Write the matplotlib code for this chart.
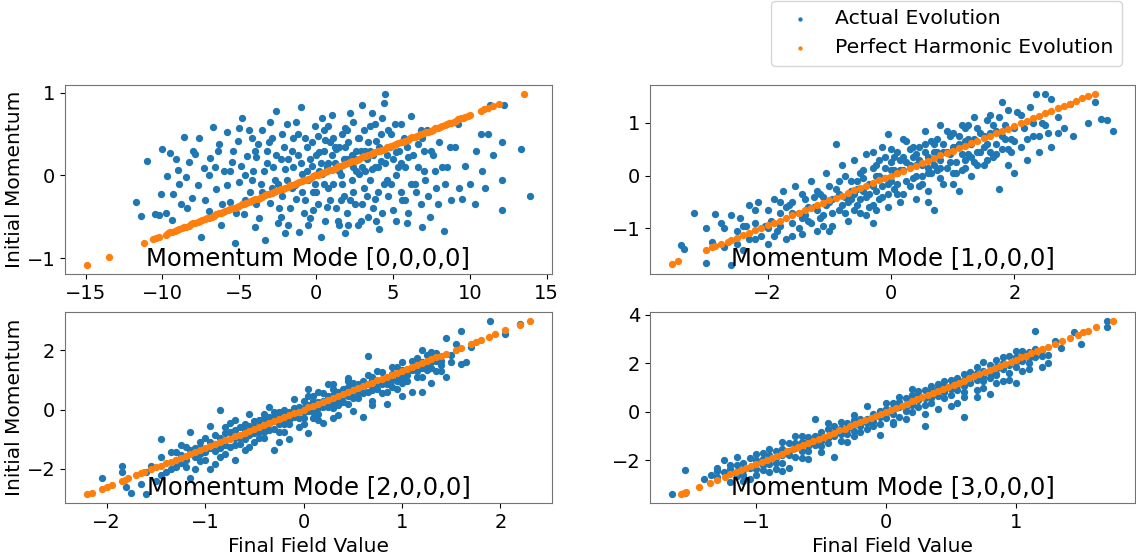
import matplotlib
matplotlib.use("Agg")
import matplotlib.pyplot as plt
import numpy as np

# -----------------------------------------------------------------------------
#   Data (blue = actual, orange = perfect harmonic)
# -----------------------------------------------------------------------------

titles = ["Momentum Mode [0,0,0,0]", "Momentum Mode [1,0,0,0]",
          "Momentum Mode [2,0,0,0]", "Momentum Mode [3,0,0,0]"]

# mode [0,0,0,0]
actual_0 = np.array([
    (-11.7, -0.32), (-11.4, -0.49), (-11.0, 0.17), (-10.5, -0.47), (-10.2, -0.48),
    (-10.0, 0.32), (-10.1, -0.23), (-9.7, -0.01), (-9.5, 0.27), (-9.4, -0.54),
    (-9.3, -0.22), (-9.0, 0.06), (-8.8, -0.35), (-8.6, 0.47), (-8.5, -0.02),
    (-8.3, 0.16), (-8.1, -0.27), (-7.9, 0.26), (-7.7, -0.11), (-7.5, -0.75),
    (-7.3, 0.09), (-7.0, -0.43), (-6.9, 0.21), (-6.7, 0.59), (-6.5, -0.17),
    (-6.3, 0.38), (-6.2, -0.6), (-6.0, 0.05), (-5.8, 0.52), (-5.6, -0.32),
    (-5.5, 0.16), (-5.3, -0.82), (-5.1, 0.42), (-5.0, -0.08), (-4.8, 0.7),
    (-4.7, -0.47), (-4.5, 0.24), (-4.3, -0.2), (-4.1, 0.05), (-4.0, -0.63),
    (-3.8, 0.38), (-3.6, -0.1), (-3.5, 0.55), (-3.3, -0.78), (-3.2, 0.15),
    (-3.0, -0.33), (-2.9, 0.45), (-2.7, -0.05), (-2.6, 0.78), (-2.5, -0.58),
    (-2.3, 0.2), (-2.2, -0.25), (-2.0, 0.08), (-1.9, 0.62), (-1.7, -0.4),
    (-1.6, 0.3), (-1.4, -0.12), (-1.2, 0.5), (-1.1, -0.68), (-1.0, 0.83),
    (-0.9, 0.02), (-0.7, -0.3), (-0.6, 0.35), (-0.4, -0.52), (-0.3, 0.12),
    (-0.1, 0.6), (0.0, -0.2), (0.2, 0.28), (0.3, -0.75), (0.4, 0.02),
    (0.6, 0.43), (0.7, -0.38), (0.8, 0.15), (1.0, 0.73), (1.1, -0.1),
    (1.3, 0.32), (1.4, -0.55), (1.5, 0.05), (1.7, 0.5), (1.8, -0.25),
    (2.0, 0.2), (2.1, -0.6), (2.2, 0.75), (2.4, 0.1), (2.5, -0.35),
    (2.7, 0.45), (2.8, 0.02), (3.0, 0.85), (3.1, -0.15), (3.2, 0.3),
    (3.4, -0.5), (3.5, 0.6), (3.6, 0.08), (3.8, -0.28), (3.9, 0.42),
    (4.1, -0.65), (4.2, 0.18), (4.4, 0.88), (4.5, 0.99), (4.6, -0.05),
    (4.8, 0.35), (5.0, -0.42), (5.1, 0.62), (5.3, 0.1), (5.5, -0.2),
    (5.7, 0.45), (5.9, -0.58), (6.0, 0.22), (6.2, 0.72), (6.4, -0.1),
    (6.6, 0.38), (6.8, -0.35), (7.0, 0.05), (7.2, 0.55), (7.4, -0.5),
    (7.6, 0.25), (7.8, -0.15), (8.0, 0.4), (8.3, -0.67), (8.5, 0.1),
    (8.8, -0.3), (9.0, 0.35), (9.2, 0.62), (9.5, -0.28), (9.7, 0.12),
    (10.0, -0.1), (10.4, 0.3), (10.7, 0.5), (11.0, -0.15), (11.2, 0.5),
    (11.3, 0.85), (11.5, 0.25), (12.1, 0.4), (12.1, -0.05), (12.1, -0.42),
    (12.2, 0.85), (13.3, 0.32), (13.9, -0.25),
    (0.5, -0.1), (1.2, 0.15), (2.3, -0.05), (3.3, 0.2), (4.0, 0.1),
    (-0.5, -0.05), (1.6, -0.3), (2.6, 0.3), (-1.5, 0.1), (0.9, 0.4),
    (3.7, -0.4), (-2.8, -0.2), (5.2, 0.28), (4.7, -0.25), (-4.2, 0.45),
    (-3.9, -0.35), (2.9, -0.55), (1.9, 0.58), (-0.2, -0.42), (0.1, 0.48),
    (-5.8, -0.12), (-5.4, 0.3), (-5.2, -0.45), (-4.9, 0.12), (-4.6, -0.3),
    (-4.4, 0.55), (-4.2, -0.05), (-3.9, 0.22), (-3.7, -0.52), (-3.4, 0.05),
    (-3.1, 0.4), (-2.9, -0.15), (-2.6, 0.25), (-2.4, -0.4), (-2.1, 0.35),
    (-1.9, -0.05), (-1.8, -0.6), (-1.5, 0.45), (-1.3, -0.28), (-1.0, 0.15),
    (-0.8, -0.45), (-0.6, 0.05), (-0.3, 0.4), (-0.2, -0.2), (0.1, -0.35),
    (0.3, 0.15), (0.5, 0.55), (0.6, -0.55), (0.8, -0.15), (1.0, 0.25),
    (1.1, 0.45), (1.3, -0.4), (1.5, 0.35), (1.6, 0.0), (1.8, 0.2),
    (2.0, -0.45), (2.1, 0.4), (2.3, 0.25), (2.4, -0.2), (2.6, 0.05),
    (2.7, -0.6), (2.9, 0.3), (3.0, 0.1), (3.1, 0.55), (3.3, -0.25),
    (3.4, 0.4), (3.5, -0.05), (3.7, 0.25), (3.8, 0.62), (4.0, -0.2),
    (4.2, 0.5), (4.3, -0.45), (4.5, 0.15), (4.7, 0.55), (4.9, -0.1),
    (5.0, 0.2), (5.2, -0.55), (5.4, 0.3), (5.6, -0.3), (5.8, 0.1),
    (6.0, -0.45), (6.3, 0.25), (6.5, -0.2), (6.8, 0.55), (7.1, -0.05),
    (7.5, 0.3), (7.9, -0.35), (8.2, 0.1), (8.7, 0.35), (9.3, -0.15),
    (-6.6, 0.1), (-7.2, -0.3), (-8.0, 0.3), (-8.9, -0.1), (-6.1, -0.35),
    (-5.0, 0.58), (-3.0, 0.65), (-2.0, -0.7), (0.4, 0.7), (1.9, -0.7),
    (3.6, 0.75), (5.5, 0.62), (6.9, -0.62), (-9.8, -0.45), (10.3, -0.35),
    (10.8, 0.05),
    (-3.5, -0.2), (-3.2, 0.3), (-2.8, 0.1), (-2.5, -0.1), (-2.2, 0.5),
    (-1.8, 0.2), (-1.6, -0.15), (-1.2, 0.25), (-0.9, -0.2), (-0.7, 0.45),
    (-0.4, 0.2), (-0.1, -0.1), (0.2, 0.05), (0.5, 0.3), (0.7, 0.1),
    (0.9, -0.3), (1.2, 0.35), (1.4, 0.1), (1.7, -0.1), (1.9, 0.35),
    (2.2, -0.3), (2.5, 0.2), (2.8, 0.45), (3.0, -0.35), (3.2, 0.05),
    (3.5, 0.3), (3.8, 0.1), (4.1, 0.35), (4.4, -0.1), (4.6, 0.25),
    (4.9, 0.5), (5.2, 0.0), (5.5, 0.15), (5.9, 0.35), (6.2, -0.1),
    (6.6, 0.1), (7.0, 0.3), (7.3, -0.25), (7.7, 0.05), (8.4, -0.1),
    (-4.6, 0.0), (-4.0, 0.3), (-5.6, 0.05), (-6.4, 0.3), (-7.0, 0.0),
    (-7.6, 0.45), (-8.4, -0.4), (-9.1, 0.2), (0.0, 0.25), (0.8, 0.6),
    (2.0, 0.55), (3.9, -0.55), (5.8, -0.3), (6.9, 0.45), (-2.3, -0.5),
    (-0.5, -0.6), (1.5, -0.6), (2.4, 0.65), (4.3, 0.7), (-1.3, 0.65),
])
harm_0_x = [-14.9, -13.5, -11.2, -10.6, -10.4, -10.2, -9.8, -9.5, -9.2, -8.9,
            -8.6, -8.3, -8.0, -7.7, -7.4, -7.1, -6.8, -6.5, -6.2, -5.9,
            -5.6, -5.3, -5.0, -4.7, -4.4, -4.1, -3.8, -3.5, -3.2, -2.9,
            -2.6, -2.3, -2.0, -1.7, -1.4, -1.1, -0.8, -0.5, -0.2, 0.1,
            0.4, 0.7, 1.0, 1.3, 1.6, 1.9, 2.2, 2.5, 2.8, 3.1,
            3.4, 3.7, 4.0, 4.3, 4.6, 4.9, 5.2, 5.5, 5.8, 6.1,
            6.4, 6.7, 7.0, 7.3, 7.6, 7.9, 8.2, 8.5, 8.8, 9.1,
            9.4, 9.7, 10.0, 10.7, 10.9, 11.2, 11.5, 11.9, 13.5,
            -9.65, -9.35, -9.05, -8.75, -8.45, -8.15, -7.85, -7.55, -7.25, -6.95,
            -6.65, -6.35, -6.05, -5.75, -5.45, -5.15, -4.85, -4.55, -4.25, -3.95,
            -3.65, -3.35, -3.05, -2.75, -2.45, -2.15, -1.85, -1.55, -1.25, -0.95,
            -0.65, -0.35, -0.05, 0.25, 0.55, 0.85, 1.15, 1.45, 1.75, 2.05,
            2.35, 2.65, 2.95, 3.25, 3.55, 3.85, 4.15, 4.45, 4.75, 5.05,
            5.35, 5.65, 5.95, 6.25, 6.55, 6.85, 7.15, 7.45, 7.75, 8.05,
            8.35, 8.65, 8.95, 9.25, 9.55, 9.85]
harm_0_y = [-1.09, -0.99, -0.82, -0.77, -0.76, -0.74, -0.72, -0.69, -0.67, -0.65,
            -0.63, -0.61, -0.58, -0.56, -0.54, -0.52, -0.50, -0.47, -0.45, -0.43,
            -0.41, -0.39, -0.37, -0.34, -0.32, -0.30, -0.28, -0.26, -0.23, -0.21,
            -0.19, -0.17, -0.15, -0.12, -0.10, -0.08, -0.06, -0.04, -0.01, 0.01,
            0.03, 0.05, 0.07, 0.09, 0.12, 0.14, 0.16, 0.18, 0.20, 0.23,
            0.25, 0.27, 0.29, 0.31, 0.34, 0.36, 0.38, 0.40, 0.42, 0.45,
            0.47, 0.49, 0.51, 0.53, 0.55, 0.58, 0.60, 0.62, 0.64, 0.66,
            0.69, 0.71, 0.73, 0.78, 0.80, 0.82, 0.84, 0.87, 0.99,
            -0.70, -0.68, -0.66, -0.64, -0.62, -0.59, -0.57, -0.55, -0.53, -0.51,
            -0.49, -0.46, -0.44, -0.42, -0.40, -0.38, -0.35, -0.33, -0.31, -0.29,
            -0.27, -0.24, -0.22, -0.20, -0.18, -0.16, -0.14, -0.11, -0.09, -0.07,
            -0.05, -0.03, 0.00, 0.02, 0.04, 0.06, 0.08, 0.11, 0.13, 0.15,
            0.17, 0.19, 0.22, 0.24, 0.26, 0.28, 0.30, 0.32, 0.35, 0.37,
            0.39, 0.41, 0.43, 0.46, 0.48, 0.50, 0.52, 0.54, 0.57, 0.59,
            0.61, 0.63, 0.65, 0.68, 0.70, 0.72]

# mode [1,0,0,0]
actual_1 = np.array([
    (-3.4, -1.32), (-3.35, -1.38), (-3.2, -0.7), (-3.0, -1.0), (-3.0, -1.65),
    (-2.9, -1.25), (-2.85, -0.73), (-2.75, -0.9), (-2.7, -1.35), (-2.6, -0.75),
    (-2.6, -1.7), (-2.5, -1.05), (-2.45, -0.8), (-2.4, -1.4), (-2.3, -0.55),
    (-2.3, -1.2), (-2.2, -0.9), (-2.15, -0.5), (-2.1, -1.15), (-2.0, -0.65),
    (-2.0, -1.3), (-1.95, -0.85), (-1.9, -0.45), (-1.85, -1.05), (-1.8, -0.7),
    (-1.75, -0.3), (-1.7, -1.2), (-1.65, -0.55), (-1.6, -0.9), (-1.55, -0.2),
    (-1.5, -0.7), (-1.45, -1.1), (-1.4, -0.45), (-1.35, -0.85), (-1.3, -0.1),
    (-1.25, -0.6), (-1.2, -1.05), (-1.15, -0.35), (-1.1, -0.75), (-1.05, 0.05),
    (-1.0, -0.5), (-0.95, -0.95), (-0.9, 0.6), (-0.9, -0.25), (-0.85, -0.65),
    (-0.8, 0.2), (-0.75, -0.4), (-0.7, -0.85), (-0.65, -0.1), (-0.6, 0.3),
    (-0.55, -0.55), (-0.5, 0.05), (-0.45, -0.3), (-0.4, 0.4), (-0.4, -0.75),
    (-0.35, -0.15), (-0.3, -0.9), (-0.25, 0.2), (-0.2, -0.45), (-0.15, 0.55),
    (-0.1, -0.05), (-0.05, 0.78), (-0.05, -0.6), (0.0, 0.25), (0.05, -0.25),
    (0.1, 0.45), (0.15, -0.5), (0.2, 0.1), (0.25, 0.65), (0.3, -0.2),
    (0.35, 0.35), (0.4, -0.45), (0.45, 0.55), (0.5, 0.0), (0.55, 0.85),
    (0.6, -0.3), (0.65, 0.3), (0.7, -0.65), (0.7, 0.6), (0.75, 0.1),
    (0.8, 0.95), (0.85, -0.15), (0.9, 0.45), (0.95, 0.75), (1.0, 0.05),
    (1.05, 0.55), (1.1, -0.3), (1.15, 0.95), (1.2, 0.3), (1.25, 0.7),
    (1.3, 0.0), (1.35, 1.1), (1.4, 0.45), (1.45, 0.8), (1.5, 0.2),
    (1.55, 0.6), (1.6, 1.15), (1.65, 0.35), (1.7, 0.85), (1.75, -0.25),
    (1.8, 1.4), (1.8, 0.5), (1.85, 0.95), (1.9, 0.2), (1.95, 0.7),
    (2.0, 0.05), (2.05, 1.2), (2.1, 0.55), (2.15, 0.9), (2.2, 0.3),
    (2.25, 1.3), (2.3, 0.75), (2.35, 1.55), (2.4, 0.45), (2.45, 1.0),
    (2.5, 1.55), (2.55, 0.8), (2.6, 1.45), (2.6, 0.55), (2.7, 1.1),
    (2.8, 0.9), (2.9, 1.35), (2.95, 0.75), (3.2, 1.0), (3.3, 1.4),
    (3.4, 1.07), (3.5, 1.05), (3.6, 0.85),
    (-0.3, -0.2), (0.1, 0.05), (0.4, 0.2), (-0.6, -0.35), (0.8, 0.3),
    (-1.1, -0.4), (1.2, 0.65), (0.0, -0.1), (-0.2, 0.0), (0.6, 0.15),
    (-2.2, -1.2), (-2.05, -0.95), (-1.9, -1.15), (-1.8, -0.95), (-1.7, -0.6),
    (-1.6, -0.5), (-1.5, -1.0), (-1.45, -0.35), (-1.35, -0.6), (-1.3, -0.9),
    (-1.2, -0.3), (-1.15, -0.8), (-1.05, -0.55), (-1.0, -0.2), (-0.95, -0.7),
    (-0.85, -0.35), (-0.8, -0.55), (-0.75, 0.0), (-0.7, -0.5), (-0.65, -0.3),
    (-0.6, -0.65), (-0.55, -0.1), (-0.5, -0.45), (-0.45, 0.1), (-0.4, -0.4),
    (-0.35, -0.6), (-0.3, 0.15), (-0.25, -0.3), (-0.2, 0.3), (-0.15, -0.2),
    (-0.1, 0.15), (-0.05, -0.35), (0.0, 0.5), (0.05, 0.1), (0.1, -0.15),
    (0.15, 0.3), (0.2, -0.35), (0.25, 0.25), (0.3, 0.5), (0.35, -0.05),
    (0.4, 0.4), (0.45, -0.2), (0.5, 0.2), (0.55, 0.45), (0.6, 0.05),
    (0.65, 0.65), (0.7, 0.2), (0.75, 0.45), (0.8, -0.05), (0.85, 0.6),
    (0.9, 0.15), (0.95, 0.4), (1.0, 0.8), (1.05, 0.25), (1.1, 0.6),
    (1.15, 0.1), (1.2, 0.9), (1.25, 0.4), (1.3, 0.6), (1.35, 0.25),
    (1.4, 0.9), (1.45, 0.45), (1.5, 0.75), (1.55, 1.05), (1.6, 0.45),
    (1.65, 0.95), (1.7, 0.6), (1.75, 1.1), (1.85, 0.7), (1.9, 1.25),
    (1.95, 0.45), (2.0, 0.9), (2.1, 1.15), (2.2, 0.7), (2.3, 1.0),
    (2.4, 0.75), (2.5, 0.95), (2.7, 0.8), (-2.5, -1.3), (-2.35, -0.95),
    (-2.7, -1.0), (-1.0, -1.05), (-0.3, 0.45), (0.2, 0.7), (0.6, -0.5),
    (1.0, -0.15), (-1.6, -1.15),
    (-1.4, -0.75), (-1.25, -0.4), (-1.1, -0.95), (-0.95, -0.45), (-0.85, -0.1),
    (-0.75, -0.7), (-0.65, -0.45), (-0.55, -0.25), (-0.5, -0.7), (-0.45, -0.05),
    (-0.35, -0.35), (-0.3, -0.55), (-0.25, 0.0), (-0.15, -0.4), (-0.1, 0.35),
    (-0.05, -0.15), (0.0, 0.1), (0.05, 0.35), (0.1, -0.35), (0.15, 0.1),
    (0.2, 0.35), (0.25, -0.1), (0.3, 0.2), (0.35, 0.55), (0.4, 0.0),
    (0.45, 0.3), (0.5, -0.15), (0.55, 0.6), (0.6, 0.35), (0.65, 0.05),
    (0.7, 0.45), (0.75, 0.7), (0.8, 0.15), (0.85, 0.45), (0.9, 0.85),
    (0.95, 0.25), (1.0, 0.55), (1.05, 0.05), (1.1, 0.75), (1.15, 0.4),
    (1.2, 0.15), (1.25, 0.95), (1.3, 0.35), (1.35, 0.7), (1.4, 0.2),
    (1.5, 0.55), (1.55, 0.3), (1.6, 0.8), (1.7, 0.4), (1.8, 0.75),
    (1.9, 0.5), (2.0, 0.65), (-1.8, -0.5), (-2.0, -1.0), (-2.2, -0.65),
    (-2.4, -0.95), (-1.6, -0.7), (-1.45, -0.8), (-1.2, -0.65), (-0.25, -0.65),
])
harm_1_x = [-3.55, -3.45, -3.0, -2.9, -2.85, -2.75, -2.65,
            -2.6, -2.5, -2.4, -2.3, -2.2, -2.1, -2.0, -1.9, -1.8, -1.7,
            -1.6, -1.5, -1.4, -1.3, -1.2, -1.1, -1.0, -0.9, -0.8, -0.7,
            -0.6, -0.5, -0.4, -0.3, -0.2, -0.1, 0.0, 0.1, 0.2, 0.3,
            0.4, 0.5, 0.6, 0.7, 0.8, 0.9, 1.0, 1.1, 1.2, 1.3,
            1.4, 1.5, 1.6, 1.7, 1.8, 1.9, 2.0, 2.1, 2.2, 2.3,
            2.4, 2.5, 2.6, 2.7, 2.8, 2.9, 3.0, 3.1, 3.2, 3.3]
harm_1_y = [-1.67, -1.62, -1.41, -1.36, -1.34, -1.29, -1.25,
            -1.22, -1.18, -1.13, -1.08, -1.03, -0.99, -0.94, -0.89, -0.85, -0.80,
            -0.75, -0.71, -0.66, -0.61, -0.56, -0.52, -0.47, -0.42, -0.38, -0.33,
            -0.28, -0.24, -0.19, -0.14, -0.09, -0.05, 0.00, 0.05, 0.09, 0.14,
            0.19, 0.24, 0.28, 0.33, 0.38, 0.42, 0.47, 0.52, 0.56, 0.61,
            0.66, 0.71, 0.75, 0.80, 0.85, 0.89, 0.94, 0.99, 1.03, 1.08,
            1.13, 1.18, 1.22, 1.27, 1.32, 1.36, 1.41, 1.46, 1.50, 1.55]

# mode [2,0,0,0]
actual_2 = np.array([
    (-2.05, -2.3), (-1.85, -1.9), (-1.85, -2.1), (-1.8, -2.6), (-1.75, -2.8),
    (-1.65, -2.5), (-1.6, -2.85), (-1.55, -1.9), (-1.5, -2.4), (-1.45, -1.0),
    (-1.45, -1.6), (-1.4, -2.1), (-1.35, -1.45), (-1.3, -1.95), (-1.25, -1.2),
    (-1.2, -1.7), (-1.15, -0.75), (-1.15, -2.3), (-1.1, -1.3), (-1.05, -1.75),
    (-1.0, -0.95), (-1.0, -1.45), (-0.95, -0.55), (-0.95, -2.0), (-0.9, -1.15),
    (-0.85, 0.0), (-0.85, -1.6), (-0.8, -0.8), (-0.75, -1.25), (-0.75, -0.45),
    (-0.7, -1.7), (-0.65, -0.95), (-0.6, -0.5), (-0.6, -1.35), (-0.55, -0.15),
    (-0.5, -0.8), (-0.5, -1.1), (-0.45, -0.35), (-0.4, -0.95), (-0.4, -0.6),
    (-0.35, 0.1), (-0.3, -1.35), (-0.3, -0.4), (-0.25, -0.75), (-0.2, 0.0),
    (-0.2, -0.5), (-0.15, -1.0), (-0.1, -0.25), (-0.1, 0.35), (-0.05, -0.6),
    (0.0, 0.05), (0.0, -0.3), (0.05, 0.45), (0.05, -0.8), (0.1, 0.2),
    (0.15, -0.15), (0.15, 0.6), (0.2, -0.45), (0.2, 0.3), (0.25, 0.85),
    (0.3, 0.05), (0.3, 0.5), (0.35, -0.2), (0.4, 0.7), (0.4, 0.25),
    (0.45, 1.05), (0.5, 0.4), (0.5, -0.05), (0.55, 0.85), (0.6, -0.25),
    (0.6, 0.55), (0.65, 1.8), (0.65, 1.15), (0.7, 0.3), (0.7, 0.8),
    (0.75, 1.3), (0.8, 0.55), (0.85, 1.0), (0.85, 0.2), (0.9, 1.45),
    (0.9, 0.75), (0.95, 1.2), (1.0, 0.45), (1.0, 1.6), (1.05, 0.95),
    (1.1, 1.35), (1.1, 0.6), (1.15, 1.75), (1.2, 1.1), (1.2, 0.6),
    (1.25, 1.5), (1.3, 0.9), (1.3, 1.95), (1.35, 1.3), (1.4, 1.65),
    (1.45, 2.4), (1.45, 1.1), (1.5, 1.85), (1.55, 2.2), (1.6, 2.65),
    (1.6, 1.55), (1.65, 1.6), (1.7, 2.1), (1.9, 3.0), (2.05, 2.55),
    (2.2, 2.9),
    (-0.9, -1.4), (-0.7, -0.7), (-0.45, -0.75), (-0.25, -0.1), (0.1, -0.1),
    (0.35, 0.35), (0.55, 0.6), (0.75, 0.95), (-1.2, -1.25), (0.25, 0.15),
    (-1.35, -2.0), (-1.25, -1.55), (-1.2, -1.95), (-1.1, -1.6), (-1.05, -1.1),
    (-1.0, -1.7), (-0.95, -1.3), (-0.9, -0.85), (-0.85, -1.3), (-0.8, -1.5),
    (-0.75, -0.75), (-0.7, -1.2), (-0.65, -0.6), (-0.6, -1.0), (-0.55, -0.55),
    (-0.55, -1.25), (-0.5, -0.4), (-0.45, -0.95), (-0.4, -0.3), (-0.35, -0.7),
    (-0.35, -0.25), (-0.3, -0.65), (-0.25, -0.2), (-0.2, -0.75), (-0.15, -0.1),
    (-0.15, -0.5), (-0.1, 0.05), (-0.05, -0.3), (0.0, 0.3), (0.0, -0.5),
    (0.05, 0.15), (0.1, -0.3), (0.1, 0.45), (0.15, 0.05), (0.2, 0.55),
    (0.25, 0.1), (0.25, 0.45), (0.3, 0.7), (0.35, 0.15), (0.35, 0.6),
    (0.4, 0.45), (0.45, 0.2), (0.45, 0.75), (0.5, 0.9), (0.55, 0.4),
    (0.6, 0.95), (0.65, 0.6), (0.7, 1.1), (0.75, 0.7), (0.8, 1.25),
    (0.8, 0.85), (0.85, 0.6), (0.9, 1.0), (0.95, 1.45), (1.0, 0.9),
    (1.05, 1.3), (1.1, 1.65), (1.15, 1.1), (1.2, 1.4), (1.25, 1.85),
    (1.3, 1.4), (1.35, 1.65), (1.4, 1.3), (1.5, 1.6), (-1.3, -1.45),
    (-1.45, -2.2), (-1.6, -2.1), (-1.1, -2.0), (-0.25, -1.1), (0.3, -0.3),
    (0.7, 0.15), (1.2, 2.0), (-0.7, -0.35), (0.05, 0.7), (-0.9, -1.85),
    (-1.3, -1.7), (-1.15, -1.35), (-1.05, -1.5), (-0.95, -1.1), (-0.85, -0.95),
    (-0.8, -1.2), (-0.7, -0.95), (-0.65, -1.15), (-0.6, -0.7), (-0.5, -0.6),
    (-0.45, -0.55), (-0.4, -0.75), (-0.35, -0.45), (-0.3, -0.25), (-0.25, -0.5),
    (-0.2, -0.2), (-0.15, -0.35), (-0.1, -0.1), (-0.05, 0.1), (0.0, -0.1),
    (0.05, -0.05), (0.1, 0.3), (0.15, 0.25), (0.2, 0.1), (0.25, 0.3),
    (0.3, 0.25), (0.35, 0.45), (0.4, 0.6), (0.45, 0.45), (0.5, 0.6),
    (0.55, 0.55), (0.6, 0.75), (0.65, 0.85), (0.7, 0.65), (0.75, 0.85),
    (0.8, 1.0), (0.85, 0.85), (0.9, 1.2), (0.95, 0.95), (1.0, 1.1),
    (1.05, 1.15), (1.1, 1.45), (1.15, 1.3), (1.2, 1.6), (1.25, 1.35),
    (1.3, 1.6), (1.35, 1.9), (1.4, 1.5), (-1.05, -1.25), (-1.25, -1.8),
    (-0.55, -0.85), (-0.3, -0.1), (0.3, 0.85), (0.7, 1.0), (1.0, 1.35),
    (-0.8, -0.6), (-0.4, -0.15), (0.45, 0.95), (0.95, 0.7), (0.15, -0.35),
])
harm_2_x = [-2.2, -2.15, -2.05, -2.0, -1.95, -1.85, -1.82, -1.78, -1.7, -1.65,
            -1.62, -1.55, -1.5, -1.45,
            -1.40, -1.35, -1.30, -1.25, -1.20, -1.15, -1.10, -1.05, -1.00, -0.95,
            -0.90, -0.85, -0.80, -0.75, -0.70, -0.65, -0.60, -0.55, -0.50, -0.45,
            -0.40, -0.35, -0.30, -0.25, -0.20, -0.15, -0.10, -0.05, 0.00, 0.05,
            0.10, 0.15, 0.20, 0.25, 0.30, 0.35, 0.40, 0.45, 0.50, 0.55,
            0.60, 0.65, 0.70, 0.75, 0.80, 0.85, 0.90, 0.95, 1.00, 1.05,
            1.10, 1.15, 1.20, 1.25, 1.30, 1.35, 1.40, 1.45,
            1.55, 1.6, 1.7, 1.75, 1.8, 1.88, 1.95, 2.05, 2.2, 2.3]
harm_2_y = [-2.86, -2.80, -2.67, -2.60, -2.54, -2.41, -2.37, -2.31, -2.21, -2.15,
            -2.11, -2.02, -1.95, -1.89,
            -1.82, -1.76, -1.69, -1.63, -1.56, -1.50, -1.43, -1.37, -1.30, -1.24,
            -1.17, -1.11, -1.04, -0.98, -0.91, -0.85, -0.78, -0.72, -0.65, -0.59,
            -0.52, -0.46, -0.39, -0.33, -0.26, -0.20, -0.13, -0.07, 0.00, 0.07,
            0.13, 0.20, 0.26, 0.33, 0.39, 0.46, 0.52, 0.59, 0.65, 0.72,
            0.78, 0.85, 0.91, 0.98, 1.04, 1.11, 1.17, 1.24, 1.30, 1.37,
            1.43, 1.50, 1.56, 1.63, 1.69, 1.76, 1.82, 1.89,
            2.02, 2.08, 2.21, 2.28, 2.34, 2.44, 2.54, 2.67, 2.86, 2.99]

# mode [3,0,0,0]
actual_3 = np.array([
    (-1.65, -3.4), (-1.55, -2.4), (-1.55, -3.35), (-1.4, -2.75), (-1.3, -2.3),
    (-1.25, -2.0), (-1.2, -2.9), (-1.15, -1.85), (-1.15, -2.5), (-1.1, -2.1),
    (-1.05, -2.75), (-1.0, -1.75), (-1.0, -2.35), (-0.95, -1.95), (-0.9, -2.5),
    (-0.9, -1.55), (-0.85, -2.1), (-0.8, -1.25), (-0.8, -1.8), (-0.75, -2.3),
    (-0.7, -1.5), (-0.7, -1.0), (-0.65, -1.9), (-0.6, -1.2), (-0.6, -1.6),
    (-0.55, -0.3), (-0.55, -1.35), (-0.5, -0.85), (-0.5, -1.65), (-0.45, -1.1),
    (-0.4, -0.6), (-0.4, -1.85), (-0.35, -0.9), (-0.35, -0.4), (-0.3, -1.25),
    (-0.25, -0.5), (-0.25, -0.15), (-0.2, -0.85), (-0.15, -0.3), (-0.15, 0.25),
    (-0.1, -0.6), (-0.05, 0.05), (-0.05, -0.95), (0.0, -0.25), (0.0, 0.35),
    (0.05, -0.5), (0.1, 0.2), (0.1, 0.6), (0.15, -0.3), (0.2, 0.45),
    (0.2, 0.0), (0.25, 0.85), (0.3, -0.6), (0.3, 0.3), (0.35, 0.7),
    (0.4, 0.1), (0.4, 1.15), (0.45, 0.55), (0.5, 1.05), (0.5, 0.25),
    (0.55, 1.4), (0.6, -0.2), (0.6, 0.8), (0.65, 1.2), (0.7, 0.6),
    (0.7, 1.6), (0.75, 1.0), (0.75, 2.05), (0.8, 1.4), (0.8, 0.75),
    (0.85, 1.85), (0.9, 1.25), (0.9, 2.25), (0.95, 1.6), (1.0, 2.05),
    (1.0, 1.2), (1.05, 2.5), (1.1, 1.75), (1.1, 2.2), (1.15, 3.35),
    (1.15, 2.6), (1.2, 1.85), (1.25, 2.35), (1.3, 2.9), (1.35, 2.65),
    (1.45, 3.3), (1.5, 2.8), (1.7, 3.5), (1.7, 3.75),
    (-0.95, -2.2), (-0.75, -1.6), (-0.5, -1.2), (-0.3, -0.7), (-0.1, -0.2),
    (0.15, 0.3), (0.35, 0.9), (0.55, 1.1), (0.65, 1.55), (0.85, 1.5),
    (-1.3, -2.7), (-1.2, -2.35), (-1.1, -2.6), (-1.05, -1.9), (-1.0, -2.6),
    (-0.95, -1.7), (-0.9, -2.15), (-0.85, -1.6), (-0.8, -2.1), (-0.75, -1.3),
    (-0.7, -1.85), (-0.65, -1.25), (-0.6, -1.95), (-0.55, -1.0), (-0.5, -1.4),
    (-0.45, -0.7), (-0.45, -1.3), (-0.4, -1.0), (-0.35, -1.2), (-0.3, -0.45),
    (-0.3, -0.9), (-0.25, -0.8), (-0.2, -0.3), (-0.2, -0.6), (-0.15, -0.7),
    (-0.1, -0.1), (-0.1, -0.4), (-0.05, -0.5), (0.0, 0.1), (0.05, -0.1),
    (0.05, 0.35), (0.1, -0.2), (0.15, 0.55), (0.15, 0.05), (0.2, 0.7),
    (0.25, 0.2), (0.25, 0.5), (0.3, 0.9), (0.35, 0.35), (0.4, 0.65),
    (0.4, 1.0), (0.45, 0.8), (0.5, 1.3), (0.5, 0.7), (0.55, 0.9),
    (0.6, 1.55), (0.6, 1.05), (0.65, 1.65), (0.7, 1.3), (0.7, 1.85),
    (0.75, 1.45), (0.8, 1.95), (0.85, 1.55), (0.85, 2.15), (0.9, 1.75),
    (0.95, 2.3), (1.0, 1.85), (1.0, 2.5), (1.05, 2.1), (1.1, 2.45),
    (1.15, 2.25), (1.2, 2.55), (1.25, 2.0), (-1.35, -2.6), (-1.25, -2.5),
    (-1.15, -2.2), (0.3, -0.1), (0.55, 0.35), (0.95, 1.3), (-0.6, -1.05),
    (0.7, 0.9), (0.85, 1.2), (-0.85, -2.35), (-1.1, -2.85), (0.45, 1.25),
    (-1.2, -2.2), (-1.1, -2.4), (-1.0, -2.0), (-0.95, -2.4), (-0.9, -1.8),
    (-0.85, -1.9), (-0.8, -1.55), (-0.75, -1.8), (-0.7, -1.3), (-0.65, -1.6),
    (-0.6, -1.4), (-0.55, -1.15), (-0.5, -1.0), (-0.45, -1.05), (-0.4, -0.85),
    (-0.35, -0.65), (-0.3, -0.65), (-0.25, -0.35), (-0.2, -0.45), (-0.15, -0.45),
    (-0.1, -0.25), (-0.05, -0.2), (0.0, -0.05), (0.05, 0.15), (0.1, 0.4),
    (0.15, 0.2), (0.2, 0.3), (0.25, 0.7), (0.3, 0.55), (0.35, 0.55),
    (0.4, 0.85), (0.45, 1.05), (0.5, 0.95), (0.55, 1.15), (0.6, 1.3),
    (0.65, 1.4), (0.7, 1.5), (0.75, 1.7), (0.8, 1.6), (0.85, 1.75),
    (0.9, 2.0), (0.95, 1.95), (1.0, 2.25), (1.05, 2.3), (1.1, 2.0),
    (1.15, 2.45), (1.2, 2.3), (-1.3, -2.45), (-1.15, -2.65), (-1.05, -2.3),
    (-0.25, -1.0), (0.05, -0.4), (0.35, 1.05), (0.6, 0.6), (-0.45, -0.45),
    (0.75, 1.25), (1.05, 1.7), (-0.65, -1.0), (-0.8, -2.45), (0.2, 0.95),
])
harm_3_x = [-1.58, -1.56, -1.54, -1.44, -1.36, -1.30,
            -1.24, -1.20, -1.16, -1.12, -1.08, -1.04, -1.00, -0.96, -0.92, -0.88,
            -0.84, -0.80, -0.76, -0.72, -0.68, -0.64, -0.60, -0.56, -0.52, -0.48,
            -0.44, -0.40, -0.36, -0.32, -0.28, -0.24, -0.20, -0.16, -0.12, -0.08,
            -0.04, 0.00, 0.04, 0.08, 0.12, 0.16, 0.20, 0.24, 0.28, 0.32,
            0.36, 0.40, 0.44, 0.48, 0.52, 0.56, 0.60, 0.64, 0.68, 0.72,
            0.76, 0.80, 0.84, 0.88, 0.92, 0.96, 1.00, 1.04, 1.08, 1.12,
            1.16, 1.20,
            1.25, 1.30, 1.36, 1.42, 1.48, 1.52, 1.56, 1.62, 1.75]
harm_3_y = [-3.40, -3.35, -3.31, -3.10, -2.92, -2.80,
            -2.67, -2.58, -2.49, -2.41, -2.32, -2.24, -2.15, -2.06, -1.98, -1.89,
            -1.81, -1.72, -1.63, -1.55, -1.46, -1.38, -1.29, -1.20, -1.12, -1.03,
            -0.95, -0.86, -0.77, -0.69, -0.60, -0.52, -0.43, -0.34, -0.26, -0.17,
            -0.09, 0.00, 0.09, 0.17, 0.26, 0.34, 0.43, 0.52, 0.60, 0.69,
            0.77, 0.86, 0.95, 1.03, 1.12, 1.20, 1.29, 1.38, 1.46, 1.55,
            1.63, 1.72, 1.81, 1.89, 1.98, 2.06, 2.15, 2.24, 2.32, 2.41,
            2.49, 2.58,
            2.69, 2.80, 2.92, 3.05, 3.18, 3.27, 3.35, 3.48, 3.76]

actual = [actual_0, actual_1, actual_2, actual_3]
harm_x = [harm_0_x, harm_1_x, harm_2_x, harm_3_x]
harm_y = [harm_0_y, harm_1_y, harm_2_y, harm_3_y]

# -----------------------------------------------------------------------------
#   Plot
# -----------------------------------------------------------------------------
fig = plt.figure(figsize=(11.36, 5.57), dpi=100)

# axes rectangles in figure fractions (left, bottom, width, height)
rects = [(0.0572, 0.508, 0.4287, 0.3393),
         (0.5722, 0.508, 0.427, 0.3393),
         (0.0572, 0.097, 0.4287, 0.343),
         (0.5722, 0.097, 0.427, 0.343)]

for i in range(4):
    ax = fig.add_axes(rects[i])
    ax.scatter(actual[i][:, 0], actual[i][:, 1], s=18, color="tab:blue",
               label="Actual Evolution")
    ax.scatter(harm_x[i], harm_y[i], s=18, color="tab:orange",
               label="Perfect Harmonic Evolution")
    ax.text(0.5, 0.02, titles[i], transform=ax.transAxes, ha="center",
            va="bottom", fontsize=17.5)
    ax.tick_params(labelsize=14)
    for sp in ax.spines.values():
        sp.set_color("0.45")
    if i % 2 == 0:
        ax.set_ylabel("Initial Momentum", fontsize=14.5)
        ax.yaxis.set_label_coords(-0.085, 0.5)
    if i >= 2:
        ax.set_xlabel("Final Field Value", fontsize=14.5)
    if i == 1:
        ax.set_xticks([-2, 0, 2])
        ax.set_yticks([-1, 0, 1])
    if i == 3:
        ax.set_xticks([-1, 0, 1])
    if i == 0:
        handles, labels = ax.get_legend_handles_labels()

fig.legend(handles, labels, loc="upper right", bbox_to_anchor=(0.9886, 1.0),
           borderaxespad=0.05, fontsize=14.7, markerscale=0.5,
           handletextpad=0.75)

fig.savefig("out.png", dpi=100)
